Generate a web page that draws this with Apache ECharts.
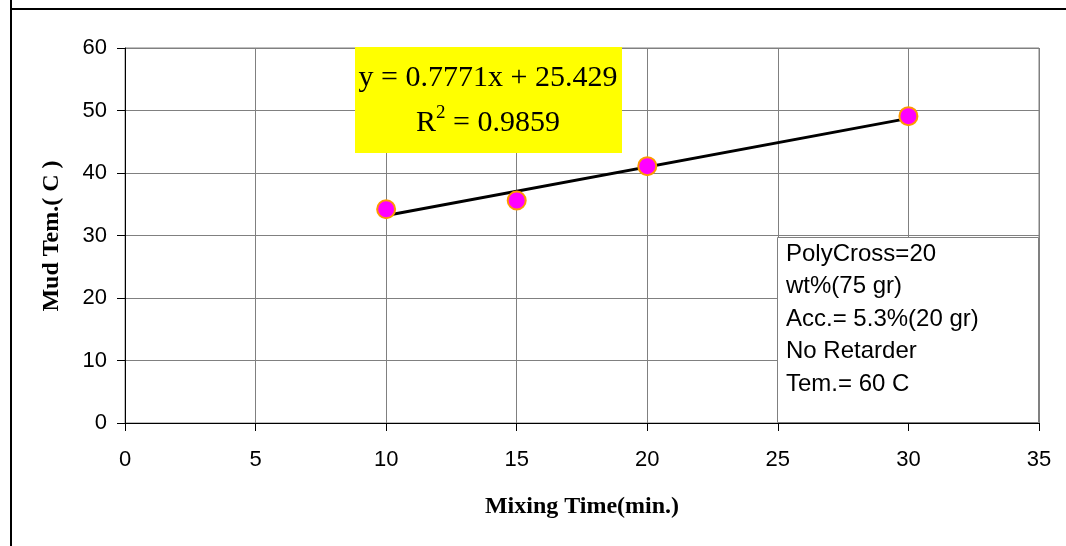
<!DOCTYPE html>
<html>
<head>
<meta charset="utf-8">
<script src="https://cdn.jsdelivr.net/npm/echarts@6/dist/echarts.min.js"></script>
<style>
  html, body { margin: 0; padding: 0; background: #ffffff; }
  #chart { width: 1066px; height: 546px; }
</style>
</head>
<body>
<div id="chart"></div>
<script>
// Mud temperature measured against mixing time
const mixingTime = [10, 15, 20, 30];
const mudTemp = [34.2, 35.6, 41.1, 49.1];

// Linear fit reported on the chart
const fitSlope = 0.7771;
const fitIntercept = 25.429;
const fitR2 = 0.9859;
const fitRange = [10, 30];

const xTicks = { min: 0, max: 35, interval: 5 };
const yTicks = { min: 0, max: 60, interval: 10 };

const infoLines = [
  'PolyCross=20',
  'wt%(75 gr)',
  'Acc.= 5.3%(20 gr)',
  'No Retarder',
  'Tem.= 60 C'
];

const chart = echarts.init(document.getElementById('chart'));

const grid = { left: 125, right: 27, top: 48, bottom: 123 };

const trend = fitRange.map(x => [x, fitSlope * x + fitIntercept]);

chart.setOption({
  animation: false,
  backgroundColor: '#ffffff',
  grid: Object.assign({ show: true, borderColor: '#808080', borderWidth: 1 }, grid),
  xAxis: {
    type: 'value',
    min: xTicks.min, max: xTicks.max, interval: xTicks.interval,
    axisLine: { show: true, onZero: false, lineStyle: { color: '#000', width: 1 } },
    axisTick: { show: true, length: 8, lineStyle: { color: '#000' } },
    axisLabel: { margin: 26, fontFamily: 'Liberation Sans', fontSize: 22, color: '#000' },
    splitLine: { show: true, lineStyle: { color: '#808080', width: 1 } }
  },
  yAxis: {
    type: 'value',
    min: yTicks.min, max: yTicks.max, interval: yTicks.interval,
    axisLine: { show: true, onZero: false, lineStyle: { color: '#000', width: 1 } },
    axisTick: { show: true, length: 8, lineStyle: { color: '#000' } },
    axisLabel: { margin: 18, fontFamily: 'Liberation Sans', fontSize: 22, color: '#000' },
    splitLine: { show: true, lineStyle: { color: '#808080', width: 1 } }
  },
  series: [
    {
      type: 'line',
      data: trend,
      symbol: 'none',
      lineStyle: { color: '#000', width: 3 },
      z: 3
    },
    {
      type: 'scatter',
      data: mixingTime.map((x, i) => [x, mudTemp[i]]),
      symbol: 'circle',
      symbolSize: 18,
      itemStyle: { color: '#FF00FF', borderColor: '#FF9900', borderWidth: 2, opacity: 1 },
      z: 4
    }
  ],
  graphic: [
    // outer frame
    { type: 'line', shape: { x1: 11, y1: 0, x2: 11, y2: 546 }, style: { stroke: '#000', lineWidth: 2 } },
    { type: 'line', shape: { x1: 10, y1: 9, x2: 1066, y2: 9 }, style: { stroke: '#000', lineWidth: 2 } },
    // axis titles
    {
      type: 'text', x: 52, y: 236, rotation: Math.PI / 2,
      style: {
        text: 'Mud Tem.( C )', font: 'bold 24px "Liberation Serif"',
        fill: '#000', align: 'center', verticalAlign: 'middle'
      }
    },
    {
      type: 'text', x: 582, y: 507,
      style: {
        text: 'Mixing Time(min.)', font: 'bold 24px "Liberation Serif"',
        fill: '#000', align: 'center', verticalAlign: 'middle'
      }
    },
    // fit equation box
    {
      type: 'rect', shape: { x: 355, y: 47, width: 267, height: 106 },
      style: { fill: '#FFFF00' }, z: 10
    },
    {
      type: 'text', x: 488, y: 78, z: 11,
      style: {
        text: 'y = ' + fitSlope + 'x + ' + fitIntercept,
        font: '30px "Liberation Serif"', fill: '#000', align: 'center', verticalAlign: 'middle'
      }
    },
    {
      type: 'text', x: 488, y: 121, z: 11,
      style: {
        text: '{b|R}{s|2}{b| = ' + fitR2 + '}',
        align: 'center', verticalAlign: 'middle',
        rich: {
          b: { font: '30px "Liberation Serif"', fill: '#000', verticalAlign: 'bottom' },
          s: { font: '19px "Liberation Serif"', fill: '#000', verticalAlign: 'top', padding: [0, 0, 16, 0] }
        }
      }
    },
    // information box
    {
      type: 'rect', shape: { x: 777.5, y: 237.5, width: 261, height: 185 },
      style: { fill: '#ffffff', stroke: '#808080', lineWidth: 1 }, z: 10
    },
    {
      type: 'text', x: 786, y: 238, z: 11,
      style: {
        text: infoLines.join('\n'), font: '24px "Liberation Sans"', lineHeight: 32.5,
        fill: '#000', align: 'left', verticalAlign: 'top'
      }
    }
  ]
});
</script>
</body>
</html>
